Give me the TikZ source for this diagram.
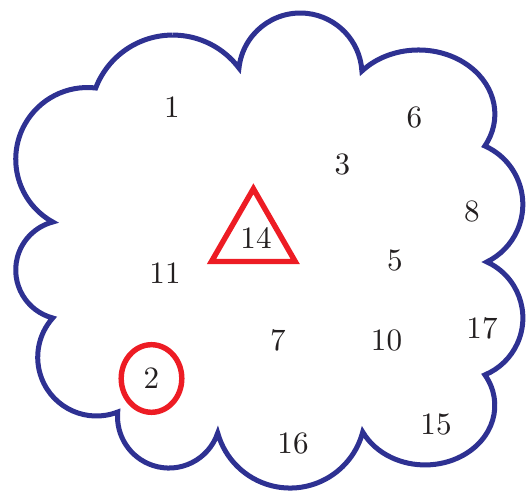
\documentclass[tikz,border=0pt]{standalone}
\usepackage{tikz}
\usepackage{graphicx}
\definecolor{cloudblue}{RGB}{46,49,146}
\definecolor{markred}{RGB}{237,28,36}
\definecolor{numgray}{RGB}{35,31,32}
\newcommand{\bignum}[1]{\scalebox{1.77}{#1}}
\begin{document}
\begin{tikzpicture}[x=0.02cm, y=0.02cm, font=\normalsize, text=numgray,
    cloudline/.style={line width=2.85pt, color=cloudblue, line join=miter, miter limit=20},
    ring/.style={line width=3.1pt, color=markred, line join=miter}]
    \useasboundingbox (0,0) rectangle (528,492);
    % cloud outline, one arc per lobe
    \draw[cloudline] (173,456.9)
        arc[start angle=90, end angle=36.9, radius=82.5]
        arc[start angle=173.8, end angle=3.4, radius=61.7]
        arc[start angle=137.8, end angle=-29.7, x radius=76.4, y radius=64.2]
        arc[start angle=66, end angle=-64, radius=63.97]
        arc[start angle=65.4, end angle=-67.4, radius=61.65]
        arc[start angle=30.9, end angle=-153.5, x radius=69.7, y radius=59.5]
        arc[start angle=-14.7, end angle=-164.5, radius=75.1]
        arc[start angle=-18.6, end angle=-185.1, radius=51.45]
        arc[start angle=-68.8, end angle=-221.9, radius=58.76]
        arc[start angle=-104.75, end angle=-255.25, radius=49.64]
        arc[start angle=-118.97, end angle=-276.6, radius=71.73]
        arc[start angle=159, end angle=90, radius=82.5];
    \node (n1) at (172,385) {\bignum{1}};
    \node (n6) at (414.5,374.5) {\bignum{6}};
    \node (n3) at (342.5,328) {\bignum{3}};
    \node (n8) at (472,281) {\bignum{8}};
    \node (n14) at (256,254) {\bignum{14}};
    \node (n11) at (165,219) {\bignum{11}};
    \node (n5) at (395,231.5) {\bignum{5}};
    \node (n17) at (482,164) {\bignum{17}};
    \node (n7) at (278,152) {\bignum{7}};
    \node (n10) at (386.5,152) {\bignum{10}};
    \node (n2) at (151.5,113.5) {\bignum{2}};
    \node (n15) at (436,68) {\bignum{15}};
    \node (n16) at (293,48.5) {\bignum{16}};
    \draw[ring] (n14.center) ++(-2.6,49.2) -- ++(-41.9,-72.7) -- ++(83.7,0) -- cycle;
    \draw[ring] (n2.center) ellipse[x radius=30.3, y radius=33.8];
\end{tikzpicture}
\end{document}
